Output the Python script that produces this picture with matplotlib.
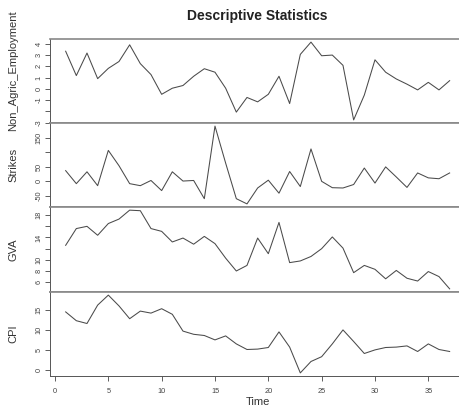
import matplotlib
matplotlib.use("Agg")
import matplotlib.pyplot as plt
import numpy as np

plt.rcParams['font.family'] = ['Liberation Sans', 'DejaVu Sans']

# Zeitreihen (t = 1..37)
time = np.arange(1, 38)

non_agric = [3.34, 1.18, 3.18, 0.91, 1.82, 2.43, 3.91, 2.24, 1.27, -0.48,
             0.06, 0.30, 1.12, 1.79, 1.48, 0.06, -2.06, -0.76, -1.15, -0.48,
             1.12, -1.30, 3.06, 4.15, 2.94, 3.00, 2.09, -2.75, -0.55, 2.58,
             1.48, 0.88, 0.42, -0.09, 0.58, -0.09, 0.73]

strikes = [36, -9, 32, -16, 106, 53, -9, -16, 2, -33,
           32, 0, 2, -61, 190, 62, -61, -79, -24, 3,
           -42, 33, -19, 111, -1, -23, -24, -12, 45, -7,
           49, 14, -22, 28, 11, 8, 28]

gva = [12.6, 15.6, 16.0, 14.4, 16.5, 17.3, 18.9, 18.8, 15.6, 15.1,
       13.2, 13.9, 12.8, 14.2, 12.9, 10.3, 8.0, 9.0, 13.9, 11.1,
       16.7, 9.5, 9.8, 10.6, 12.0, 14.1, 12.1, 7.7, 9.0, 8.3,
       6.6, 8.1, 6.7, 6.2, 7.9, 7.0, 4.8]

cpi = [14.5, 12.3, 11.6, 16.2, 18.7, 16.0, 12.8, 14.7, 14.2, 15.3,
       13.9, 9.7, 8.9, 8.6, 7.5, 8.5, 6.5, 5.1, 5.2, 5.6,
       9.5, 5.7, -0.75, 2.1, 3.3, 6.5, 10.0, 7.1, 4.1, 5.0,
       5.6, 5.7, 6.0, 4.6, 6.5, 5.1, 4.6]

series = [non_agric, strikes, gva, cpi]
names = ['Non_Agric_Employment', 'Strikes', 'GVA', 'CPI']
yticks = [[-3, -2, -1, 0, 1, 2, 3, 4],
          [-50, 0, 50, 100, 150],
          [6, 8, 10, 12, 14, 16, 18],
          [0, 5, 10, 15]]
ytick_labels = [['-3', '', '-1', '0', '1', '2', '3', '4'],
                ['-50', '0', '50', '', '150'],
                ['6', '8', '10', '', '14', '', '18'],
                ['0', '5', '10', '15']]
xticks = [0, 5, 10, 15, 20, 25, 30, 35]

fig = plt.figure(figsize=(4.59, 4.07), dpi=100)

W, H = 459, 407
left, right = 50.3, 465
edges = [39, 123, 207, 292, 376]
label_y = [0.62, 0.5, 0.5, 0.5]

axes = []
for i, (vals, name) in enumerate(zip(series, names)):
    top, bot = edges[i], edges[i + 1]
    ax = fig.add_axes([left / W, (H - bot) / H, (right - left) / W, (bot - top) / H])
    ax.plot(time, vals, color='#4a4a4a', lw=0.75)
    vmin, vmax = min(vals), max(vals)
    pad = 0.04 * (vmax - vmin)
    ax.set_ylim(vmin - pad, vmax + pad)
    ax.set_xlim(1 - 0.04 * 36, 37 + 0.04 * 36)
    ax.set_yticks(yticks[i])
    ax.set_yticklabels(ytick_labels[i], rotation=90, va='center', fontsize=5.3, color='#444444')
    ax.tick_params(axis='y', length=3.5, width=0.6, color='#444444', pad=2)
    ax.set_ylabel(name, fontsize=8, color='#333333')
    ax.yaxis.set_label_coords(-32 / (right - left), label_y[i])
    ax.spines['right'].set_visible(False)
    ax.spines['left'].set_color('#555555')
    ax.spines['left'].set_linewidth(0.7)
    for s in ('top', 'bottom'):
        ax.spines[s].set_color('#888888')
        ax.spines[s].set_linewidth(1.2)
    if i < 3:
        ax.set_xticks([])
    axes.append(ax)

axb = axes[-1]
axb.set_xticks(xticks)
axb.set_xticklabels([str(t) for t in xticks], fontsize=5.3, color='#444444')
axb.tick_params(axis='x', length=3.5, width=0.6, color='#444444', pad=5)
axb.spines['bottom'].set_color('#555555')
axb.spines['bottom'].set_linewidth(0.7)
axb.set_xlabel('Time', fontsize=8, color='#333333', labelpad=1.5)

fig.text((left + right) / 2 / W, 1 - 16 / H, 'Descriptive Statistics',
         ha='center', va='center', fontsize=10, fontweight='bold', color='#222222')

fig.savefig('out.png', dpi=100)
